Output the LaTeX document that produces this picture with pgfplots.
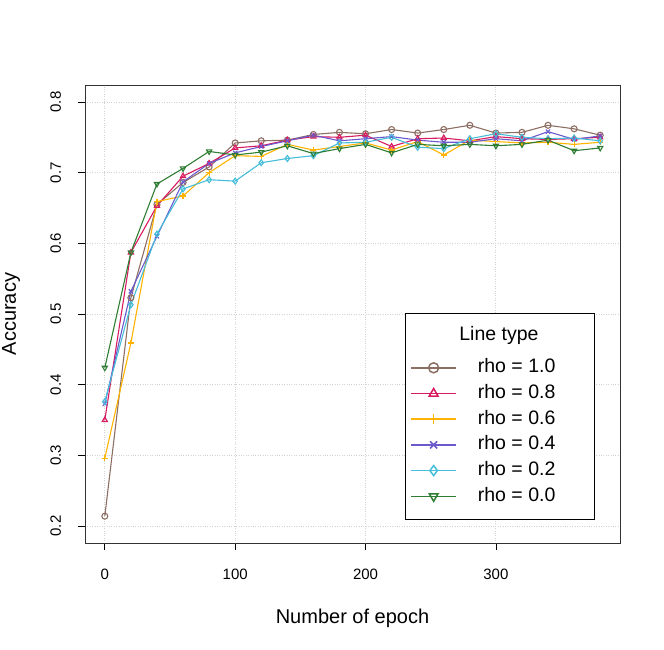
\documentclass[border=0pt]{standalone}
\usepackage{pgfplots}
\pgfplotsset{compat=1.18}
\usepackage{fontspec}
\setmainfont{Liberation Sans}
\definecolor{cA}{HTML}{8D6E63}
\definecolor{cB}{HTML}{D81B60}
\definecolor{cC}{HTML}{FFB300}
\definecolor{cD}{HTML}{6A5ACD}
\definecolor{cE}{HTML}{46BDD9}
\definecolor{cF}{HTML}{2E7D32}
\begin{document}
\begin{tikzpicture}
\useasboundingbox (-85pt,-106pt) rectangle (579pt,543pt);
\begin{axis}[
  at={(0,0)}, anchor=south west,
  scale only axis, width=535pt, height=458pt,
  xmin=-15.2, xmax=395.2, ymin=0.176, ymax=0.824,
  xtick={0,100,200,300}, ytick={0.2,0.3,0.4,0.5,0.6,0.7,0.8},
  yticklabels={0.2,0.3,0.4,0.5,0.6,0.7,0.8},
  /pgf/number format/assume math mode=true,
  tick align=outside, major tick length=7pt,
  tick style={black, line width=0.7pt},
  xtick pos=bottom, ytick pos=left,
  axis line style={black!80, line width=0.9pt},
  grid=major, grid style={dotted, line width=0.8pt, gray!35},
  ticklabel style={font=\fontsize{15}{18}\selectfont},
  xticklabel style={yshift=-15.5pt},
  yticklabel style={rotate=90, anchor=south},
  yticklabel shift=13.5pt,
  xlabel={Number of epoch}, ylabel={Accuracy},
  label style={font=\fontsize{20}{24}\selectfont},
  xlabel style={at={(axis description cs:0.5,-0.1747)}, anchor=base},
  ylabel style={at={(axis description cs:-0.129,0.5)}, anchor=base},
  every axis plot/.append style={line width=1.1pt, mark size=3pt},
  legend cell align=left,
  legend image code/.code={\draw[mark repeat=2,mark phase=2,#1,line width=1.5pt,mark size=5pt] plot coordinates {(0pt,0pt) (22.5pt,0pt) (45pt,0pt)};},
  legend style={at={(rel axis cs:1,0)}, anchor=south east, xshift=-25.7pt, yshift=23pt,
    draw, fill=white, line width=0.8pt, font=\fontsize{19.5}{23}\selectfont,
    inner xsep=5pt, inner ysep=12.3pt, row sep=3.7pt,
    nodes={inner sep=2pt, text height=14pt, text depth=4pt},
    /tikz/every odd column/.append style={column sep=19pt}},
]
\addlegendimage{empty legend}
\addlegendentry[text height=19pt]{\hspace*{-18.5pt}\raisebox{6.3pt}{Line type}}
\addplot[color=cA, mark=o] coordinates {(0,0.214)(20,0.523)(40,0.655)(60,0.686)(80,0.708)(100,0.742)(120,0.745)(140,0.746)(160,0.754)(180,0.757)(200,0.755)(220,0.761)(240,0.756)(260,0.761)(280,0.767)(300,0.756)(320,0.757)(340,0.767)(360,0.762)(380,0.753)};
\addlegendentry{\makebox[109pt][l]{rho = 1.0}}
\addplot[color=cB, mark=triangle] coordinates {(0,0.350)(20,0.587)(40,0.653)(60,0.695)(80,0.713)(100,0.735)(120,0.738)(140,0.746)(160,0.751)(180,0.750)(200,0.753)(220,0.737)(240,0.748)(260,0.749)(280,0.745)(300,0.751)(320,0.748)(340,0.747)(360,0.748)(380,0.750)};
\addlegendentry{rho = 0.8}
\addplot[color=cC, mark=+] coordinates {(0,0.296)(20,0.459)(40,0.659)(60,0.667)(80,0.700)(100,0.724)(120,0.723)(140,0.740)(160,0.732)(180,0.737)(200,0.742)(220,0.732)(240,0.744)(260,0.725)(280,0.746)(300,0.744)(320,0.742)(340,0.743)(360,0.740)(380,0.743)};
\addlegendentry{rho = 0.6}
\addplot[color=cD, mark=x] coordinates {(0,0.373)(20,0.532)(40,0.610)(60,0.687)(80,0.713)(100,0.728)(120,0.737)(140,0.745)(160,0.753)(180,0.745)(200,0.748)(220,0.751)(240,0.746)(260,0.743)(280,0.743)(300,0.748)(320,0.745)(340,0.758)(360,0.747)(380,0.752)};
\addlegendentry{rho = 0.4}
\addplot[color=cE, mark=diamond] coordinates {(0,0.376)(20,0.513)(40,0.613)(60,0.677)(80,0.690)(100,0.688)(120,0.714)(140,0.720)(160,0.724)(180,0.742)(200,0.743)(220,0.750)(240,0.736)(260,0.734)(280,0.748)(300,0.755)(320,0.750)(340,0.748)(360,0.749)(380,0.745)};
\addlegendentry{rho = 0.2}
\addplot[color=cF, mark=triangle, mark options={rotate=180}] coordinates {(0,0.424)(20,0.587)(40,0.684)(60,0.706)(80,0.730)(100,0.725)(120,0.729)(140,0.738)(160,0.727)(180,0.734)(200,0.740)(220,0.728)(240,0.740)(260,0.738)(280,0.740)(300,0.738)(320,0.740)(340,0.746)(360,0.731)(380,0.735)};
\addlegendentry{rho = 0.0}
\end{axis}
\end{tikzpicture}
\end{document}
